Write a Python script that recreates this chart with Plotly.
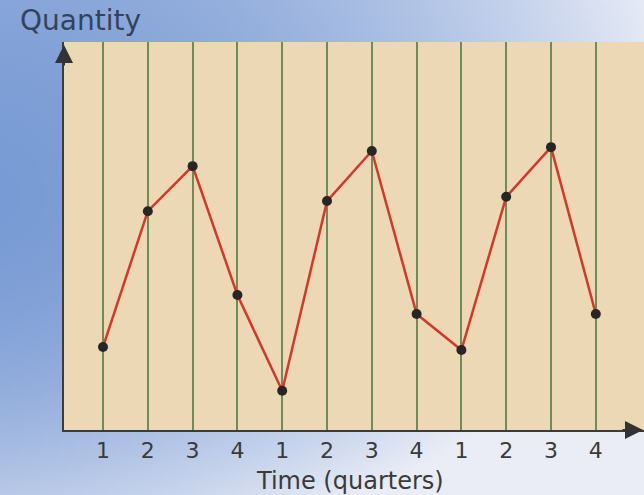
import base64, struct, zlib
import numpy as np
import plotly.graph_objects as go

# ---- data ----
periods = list(range(1, 13))
quarter_labels = ["1", "2", "3", "4", "1", "2", "3", "4", "1", "2", "3", "4"]
quantity = [21.4, 56.4, 68.0, 34.8, 10.1, 59.0, 71.9, 29.9, 20.6, 60.1, 72.9, 29.9]

W, H = 644, 495
ML, MR, MT, MB = 64, 0, 42, 65
PW, PH = W - ML - MR, H - MT - MB
FONT = "DejaVu Sans, Liberation Sans, Arial, sans-serif"

# ---- background gradient image (styling only) ----
def gradient_png(w, h):
    xs = np.linspace(0, W, w)[None, :]
    ys = np.linspace(0, H, h)[:, None]
    u = xs / W
    fy = np.where(ys < 200, 0.12 * (1 - ys / 200) ** 2, 0.52 * ((ys - 200) / 295) ** 2)
    t = np.clip(0.03 + 0.78 * u ** 1.8 + fy + 0.25 * u * (ys / H), 0, 0.97)
    dark = np.array([0x76, 0x99, 0xd4], float)
    light = np.array([0xee, 0xf0, 0xf8], float)
    img = dark[None, None, :] * (1 - t[..., None]) + light[None, None, :] * t[..., None]
    img = img.astype(np.uint8)
    raw = b"".join(b"\x00" + img[r].tobytes() for r in range(h))
    def chunk(tag, data):
        return struct.pack(">I", len(data)) + tag + data + struct.pack(">I", zlib.crc32(tag + data) & 0xFFFFFFFF)
    png = (b"\x89PNG\r\n\x1a\n" + chunk(b"IHDR", struct.pack(">IIBBBBB", w, h, 8, 2, 0, 0, 0))
           + chunk(b"IDAT", zlib.compress(raw, 9)) + chunk(b"IEND", b""))
    return "data:image/png;base64," + base64.b64encode(png).decode()

bg_src = gradient_png(161, 124)

fig = go.Figure()
fig.add_trace(go.Scatter(
    x=periods, y=quantity, mode="lines+markers",
    line=dict(color="#d4372b", width=2.5),
    marker=dict(color="#262626", size=10),
    hoverinfo="skip", showlegend=False,
))

fig.update_layout(
    width=W, height=H,
    margin=dict(l=ML, r=MR, t=MT, b=MB),
    paper_bgcolor="#a9bde6",
    plot_bgcolor="rgba(0,0,0,0)",
    font=dict(family=FONT, color="#3a3a3a"),
    images=[dict(
        source=bg_src, xref="paper", yref="paper",
        x=-ML / PW, y=1 + MT / PH, sizex=W / PW, sizey=H / PH,
        xanchor="left", yanchor="top", sizing="stretch", layer="below",
    )],
    shapes=[dict(
        type="rect", xref="paper", yref="paper", x0=0, x1=1, y0=0, y1=1,
        fillcolor="#ecd8b5", line=dict(width=0), layer="below",
    )],
    xaxis=dict(
        range=[0.129, 13.076],
        tickvals=periods, ticktext=quarter_labels,
        showgrid=True, gridcolor="#6f8b58", gridwidth=2,
        zeroline=False, showline=True, linecolor="#3c3c3c", linewidth=2,
        ticks="", tickfont=dict(size=22, color="#3a3a3a", family=FONT),
        ticklabelstandoff=0,
        fixedrange=True,
    ),
    yaxis=dict(
        range=[0, 100], showgrid=False, zeroline=False, showticklabels=False,
        showline=True, linecolor="#3c3c3c", linewidth=2, ticks="", fixedrange=True,
    ),
    annotations=[
        dict(text="Quantity", xref="paper", yref="paper",
             x=(18 - ML) / PW, y=1 + (MT - 21) / PH, xanchor="left", yanchor="middle",
             showarrow=False, font=dict(size=28, color="#34435c", family=FONT)),
        dict(text="Time (quarters)", xref="paper", yref="paper",
             x=(350 - ML) / PW, y=(430 - 481) / PH, xanchor="center", yanchor="middle",
             showarrow=False, font=dict(size=24, color="#3a3a3a", family=FONT)),
        dict(xref="paper", yref="paper", x=0, y=1 - 3 / PH, ax=0, ay=22,
             text="", showarrow=True, arrowhead=2, arrowsize=1.8, arrowwidth=2,
             arrowcolor="#333333"),
        dict(xref="paper", yref="paper", x=(643 - ML) / PW, y=0, ax=-22, ay=0,
             text="", showarrow=True, arrowhead=2, arrowsize=1.8, arrowwidth=2,
             arrowcolor="#333333"),
    ],
)

fig.write_html("out.html", config={"displayModeBar": False},
               post_script="document.body.style.margin='0px';document.body.style.overflow='hidden';")
